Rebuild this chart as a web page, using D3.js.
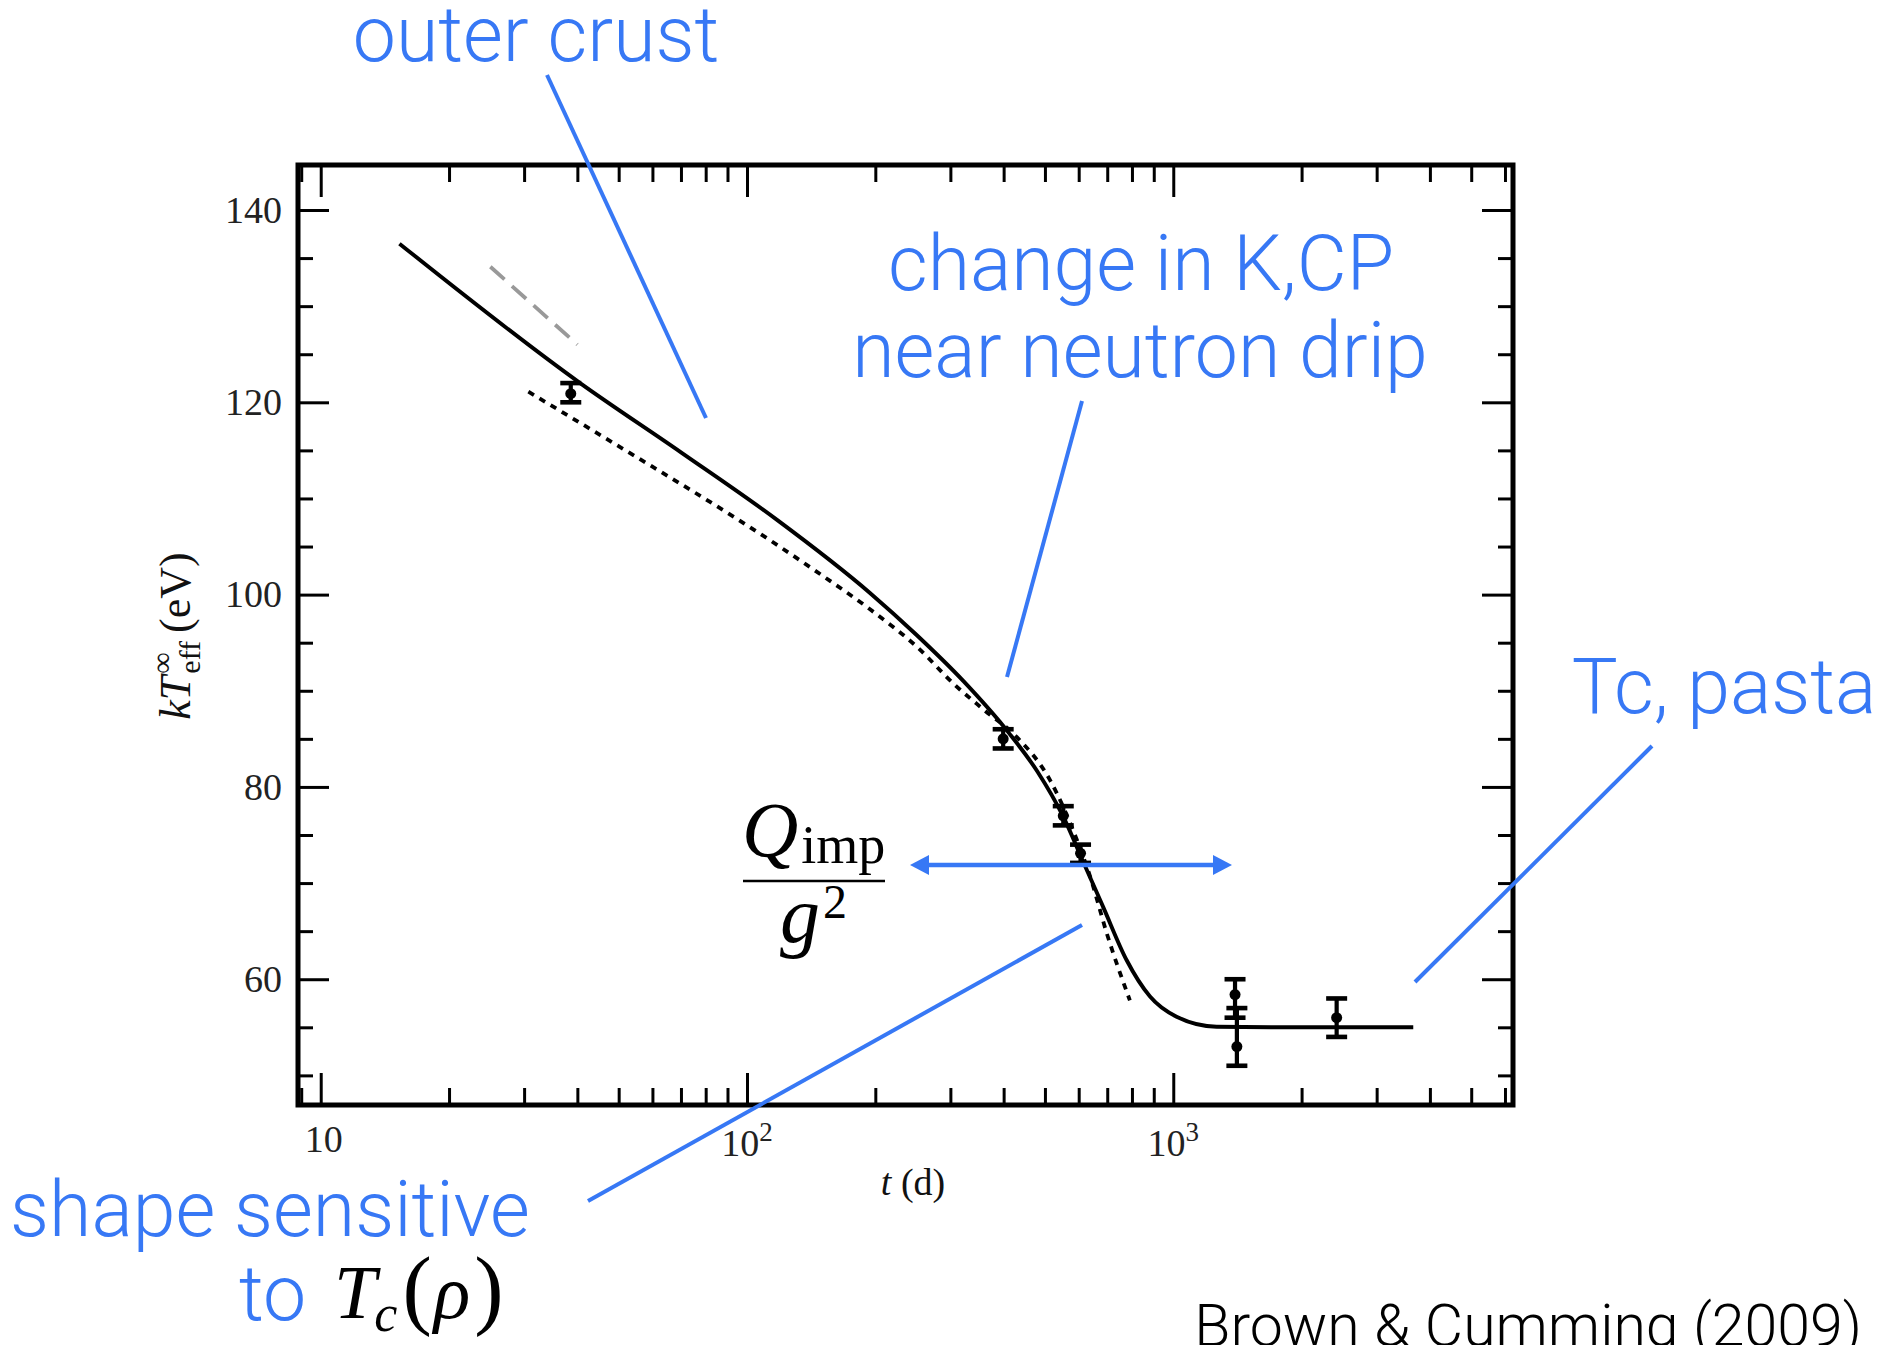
<!DOCTYPE html>
<html><head><meta charset="utf-8">
<script src="https://cdn.jsdelivr.net/npm/d3@7"></script>
<style>
html,body{margin:0;padding:0;background:#fff;}
svg{display:block;}
</style></head>
<body>
<svg id="chart" width="1896" height="1345"></svg>
<script>
// ---------------- data ----------------
// model curve (solid): time in days, kT_eff in eV
const solidT = [15.3, 40.6, 70, 117.4, 194, 250, 322, 410, 480, 552, 615, 685, 777, 882, 1018, 1264, 1812, 3656];
const solidK = [136.5, 122.0, 114.8, 107.8, 100.2, 95.8, 91.0, 85.7, 81.6, 76.9, 72.2, 67.5, 62.0, 58.2, 56.1, 55.06, 55.0, 55.0];
// alternative model (dotted)
const dotT = [30.7, 60, 94.6, 150, 194, 250, 307.5, 360, 429, 514, 594, 638, 698, 791];
const dotK = [121.1, 113.3, 107.9, 102.0, 98.5, 94.6, 90.6, 88.0, 85.2, 80.7, 74.5, 70.7, 64.8, 57.8];
// short grey dashed segment
const greyT = [25, 40];
const greyK = [134.1, 126.0];
// observations with error bars
const obsT  = [38.6, 399, 552, 606, 1396, 1410, 2417];
const obsK  = [120.9, 85.0, 77.0, 73.1, 58.4, 53.0, 56.0];
const obsLo = [120.0, 84.0, 76.0, 72.1, 56.0, 51.0, 54.0];
const obsHi = [122.0, 86.0, 78.0, 74.0, 60.0, 57.0, 58.0];
// ticks
const xMajor = [10, 100, 1000];
const xMinor = [9, 20, 30, 40, 50, 60, 70, 80, 90, 200, 300, 400, 500, 600, 700, 800, 900, 2000, 3000, 4000, 5000, 6000];
const xLabels = [["10", ""], ["10", "2"], ["10", "3"]];
const yMajor = [60, 80, 100, 120, 140];
const yMinor = [50, 55, 65, 70, 75, 85, 90, 95, 105, 110, 115, 125, 130, 135];

// ---------------- setup ----------------
const svg = d3.select('#chart');
const L = 298, R = 1513, T = 165, B = 1105;
const x = d3.scaleLog().domain([8.845, 6266]).range([L, R]);
const y = d3.scaleLinear().domain([46.92, 144.68]).range([B, T]);
const BLUE = '#3778f5';
const SERIF = "'Liberation Serif', 'DejaVu Serif', serif";
const SANS = "Roboto, 'Open Sans', 'Liberation Sans', sans-serif";

function axisGroup(axis, tx, ty, w) {
  const g = svg.append('g').attr('transform', `translate(${tx},${ty})`).call(axis);
  g.select('.domain').remove();
  g.selectAll('line').attr('stroke', '#000').attr('stroke-width', w);
  return g;
}
// major & minor ticks on all four sides, pointing inward
axisGroup(d3.axisBottom(x).tickValues(xMajor).tickSize(-32).tickFormat(''), 0, B, 3);
axisGroup(d3.axisBottom(x).tickValues(xMinor).tickSize(-17).tickFormat(''), 0, B, 3);
axisGroup(d3.axisTop(x).tickValues(xMajor).tickSize(-32).tickFormat(''), 0, T, 3);
axisGroup(d3.axisTop(x).tickValues(xMinor).tickSize(-17).tickFormat(''), 0, T, 3);
const yl = axisGroup(d3.axisLeft(y).tickValues(yMajor).tickSize(-31).tickPadding(16), L, 0, 3);
yl.selectAll('text').attr('font-family', SERIF).attr('font-size', 38).attr('fill', '#222');
axisGroup(d3.axisLeft(y).tickValues(yMinor).tickSize(-15).tickFormat(''), L, 0, 3);
axisGroup(d3.axisRight(y).tickValues(yMajor).tickSize(-31).tickFormat(''), R, 0, 3);
axisGroup(d3.axisRight(y).tickValues(yMinor).tickSize(-15).tickFormat(''), R, 0, 3);

// frame
svg.append('rect').attr('x', L).attr('y', T).attr('width', R - L).attr('height', B - T)
  .attr('fill', 'none').attr('stroke', '#000').attr('stroke-width', 5);

// x tick labels
xMajor.forEach((v, i) => {
  const [base, sup] = xLabels[i];
  const t = svg.append('text').attr('x', x(v) + (sup ? 0 : 3)).attr('y', sup ? 1156 : 1152)
    .attr('text-anchor', 'middle').attr('font-family', SERIF).attr('font-size', 38).attr('fill', '#222');
  t.append('tspan').text(base);
  if (sup) t.append('tspan').attr('dy', -15).attr('font-size', 27).text(sup);
});

// x title
const xt = svg.append('text').attr('x', 913).attr('y', 1195).attr('text-anchor', 'middle')
  .attr('font-family', SERIF).attr('font-size', 38).attr('fill', '#111');
xt.append('tspan').attr('font-style', 'italic').text('t');
xt.append('tspan').text(' (d)');

// y title (rotated)
const yg = svg.append('g').attr('transform', 'translate(190,636) rotate(-90)');
const yt = yg.append('g');
let cx = 0;
function part(txt, opts) {
  const el = yt.append('text').attr('x', cx + (opts.dx || 0)).attr('y', opts.dy || 0)
    .attr('font-family', SERIF).attr('font-size', opts.size || 44).attr('fill', '#111')
    .attr('font-style', opts.italic ? 'italic' : 'normal').text(txt);
  return el.node().getComputedTextLength();
}
cx += part('k', {italic: true});
cx += part('T', {italic: true}) + 2;
const wInf = part('∞', {size: 30, dy: -18});
const wEff = part('eff', {size: 30, dy: 10});
cx += Math.max(wInf, wEff) + 8;
cx += part('(eV)', {});
yt.attr('transform', `translate(${-cx / 2},0)`);

// ---------------- curves ----------------
const line = d3.line().x(d => x(d[0])).y(d => y(d[1])).curve(d3.curveMonotoneX);
const plot = svg.append('g');
plot.append('path').attr('d', line(greyT.map((t, i) => [t, greyK[i]])))
  .attr('fill', 'none').attr('stroke', '#999').attr('stroke-width', 3.8).attr('stroke-dasharray', '19,10');
plot.append('path').attr('d', line(dotT.map((t, i) => [t, dotK[i]])))
  .attr('fill', 'none').attr('stroke', '#000').attr('stroke-width', 3.8).attr('stroke-dasharray', '6.5,6.5');
plot.append('path').attr('d', line(solidT.map((t, i) => [t, solidK[i]])))
  .attr('fill', 'none').attr('stroke', '#000').attr('stroke-width', 3.9);

// error bars
obsT.forEach((t, i) => {
  const cxp = x(t);
  plot.append('line').attr('x1', cxp).attr('x2', cxp).attr('y1', y(obsLo[i])).attr('y2', y(obsHi[i]))
    .attr('stroke', '#000').attr('stroke-width', 4.2);
  [obsLo[i], obsHi[i]].forEach(v => plot.append('line').attr('x1', cxp - 10.5).attr('x2', cxp + 10.5)
    .attr('y1', y(v)).attr('y2', y(v)).attr('stroke', '#000').attr('stroke-width', 4.6));
  plot.append('circle').attr('cx', cxp).attr('cy', y(obsK[i])).attr('r', 5.5).attr('fill', '#000');
});

// ---------------- annotations ----------------
const ann = svg.append('g');
function blueLine(x1, y1, x2, y2) {
  ann.append('line').attr('x1', x1).attr('y1', y1).attr('x2', x2).attr('y2', y2)
    .attr('stroke', BLUE).attr('stroke-width', 4);
}
function blueText(txt, xx, yy, anchor) {
  return ann.append('text').attr('x', xx).attr('y', yy).attr('text-anchor', anchor || 'middle')
    .attr('font-family', SANS).attr('font-weight', 300).attr('font-size', 77).attr('fill', BLUE).text(txt);
}
blueText('outer crust', 536, 61);
blueLine(547, 75, 706, 418);
blueText('change in K,CP', 1141, 290);
blueText('near neutron drip', 1140, 377);
blueLine(1082, 401, 1007, 677);
blueText('Tc, pasta', 1724, 713);
blueLine(1652, 746, 1415, 982);
blueText('shape sensitive', 270, 1236);
blueText('to', 239, 1320, 'start');
blueLine(588, 1201, 1082, 925);

// T_c(rho)
const tc = ann.append('text').attr('x', 334).attr('y', 1318).attr('font-family', SERIF)
  .attr('font-size', 76).attr('fill', '#000');
tc.append('tspan').attr('font-style', 'italic').text('T');
tc.append('tspan').attr('font-style', 'italic').attr('font-size', 52).attr('dy', 13).attr('dx', -2).text('c');
tc.append('tspan').attr('dy', -13).attr('dx', 5).attr('font-size', 88).text('(');
tc.append('tspan').attr('font-style', 'italic').attr('dx', 2).text('ρ');
tc.append('tspan').attr('dx', 4).attr('font-size', 88).text(')');

// double arrow
const ay = 865, ax1 = 910, ax2 = 1232;
ann.append('line').attr('x1', ax1 + 14).attr('x2', ax2 - 14).attr('y1', ay).attr('y2', ay)
  .attr('stroke', BLUE).attr('stroke-width', 4.5);
ann.append('path').attr('d', `M${ax1},${ay} L${ax1 + 19},${ay - 10} L${ax1 + 19},${ay + 10} Z`).attr('fill', BLUE);
ann.append('path').attr('d', `M${ax2},${ay} L${ax2 - 19},${ay - 10} L${ax2 - 19},${ay + 10} Z`).attr('fill', BLUE);

// fraction Q_imp / g^2
const num = ann.append('text').attr('x', 742).attr('y', 856).attr('font-family', SERIF)
  .attr('font-size', 78).attr('fill', '#000');
num.append('tspan').attr('font-style', 'italic').text('Q');
num.append('tspan').attr('font-size', 54).attr('dy', 7).attr('dx', 3).text('imp');
ann.append('line').attr('x1', 743).attr('x2', 885).attr('y1', 881).attr('y2', 881)
  .attr('stroke', '#000').attr('stroke-width', 2.6);
const den = ann.append('text').attr('x', 780).attr('y', 942).attr('font-family', SERIF)
  .attr('font-size', 80).attr('fill', '#000');
den.append('tspan').attr('font-style', 'italic').text('g');
den.append('tspan').attr('font-size', 48).attr('dy', -24).attr('dx', 3).text('2');

// citation
svg.append('text').attr('x', 1862).attr('y', 1346).attr('text-anchor', 'end')
  .attr('font-family', SANS).attr('font-weight', 300).attr('font-size', 59).attr('fill', '#000')
  .text('Brown & Cumming (2009)');
</script>
</body></html>
